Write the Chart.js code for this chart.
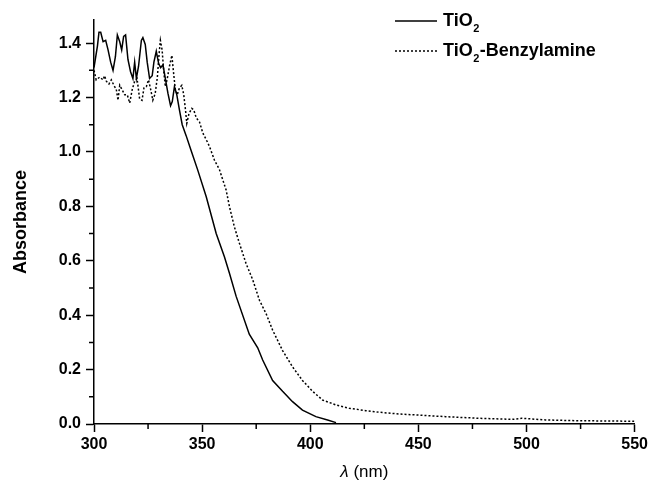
<!DOCTYPE html>
<html>
<head>
<meta charset="utf-8">
<script src="https://cdn.jsdelivr.net/npm/chart.js@4.4.0/dist/chart.umd.min.js"></script>
<style>
    html, body { margin: 0; padding: 0; background: #fff; }
    #wrap { width: 651px; height: 485px; }
</style>
</head>
<body>
<div id="wrap"><canvas id="grafico"></canvas></div>
<script>
// Dados (comprimento de onda em nm, absorbância)
const lambdaTiO2 = [300.0, 301.6, 302.3, 303.1, 304.2, 305.4, 306.5, 307.7, 308.8, 309.9,
    310.8, 311.9, 312.8, 313.7, 314.6, 315.7, 316.9, 318.0, 318.8, 319.6,
    320.6, 321.9, 322.6, 323.7, 324.6, 325.7, 326.9, 327.7, 328.8, 329.9,
    330.8, 331.9, 333.1, 334.2, 335.4, 336.2, 337.2, 338.3, 339.5, 340.8,
    342.6, 344.9, 347.9, 351.9, 356.5, 360.3, 362.6, 365.7, 371.8, 375.7,
    378.0, 382.6, 387.2, 391.8, 396.4, 402.6, 408.0, 411.9];
const absTiO2 = [1.31, 1.39, 1.44, 1.44, 1.405, 1.41, 1.375, 1.33, 1.30, 1.35,
    1.43, 1.405, 1.375, 1.425, 1.43, 1.34, 1.295, 1.27, 1.33, 1.27,
    1.315, 1.41, 1.42, 1.395, 1.33, 1.27, 1.28, 1.33, 1.37, 1.325,
    1.31, 1.32, 1.265, 1.215, 1.17, 1.185, 1.24, 1.21, 1.155, 1.10,
    1.06, 1.005, 0.935, 0.835, 0.70, 0.615, 0.555, 0.47, 0.33, 0.28,
    0.235, 0.16, 0.12, 0.082, 0.051, 0.027, 0.015, 0.005];

const lambdaBenzil = [300.0, 301.0, 302.6, 304.2, 304.9, 305.7, 306.9, 308.0, 309.2, 310.3,
    311.1, 311.9, 312.9, 314.2, 315.4, 316.5, 317.7, 318.8, 319.9, 321.1,
    322.2, 323.1, 324.2, 325.2, 326.2, 327.2, 328.3, 329.3, 330.1, 330.7,
    331.5, 332.2, 333.0, 333.9, 334.9, 336.0, 336.8, 337.6, 338.5, 339.5,
    340.6, 341.5, 342.3, 342.9, 343.9, 345.2, 346.1, 347.3, 348.8, 350.3,
    351.9, 353.4, 355.7, 358.0, 361.1, 362.6, 364.9, 367.2, 370.3, 373.4,
    376.5, 379.6, 382.6, 387.2, 391.8, 396.4, 401.1, 405.7, 411.9, 418.0,
    425.7, 433.4, 441.0, 447.2, 462.6, 478.0, 493.4, 497.8, 508.8, 524.1,
    539.5, 550.0];
const absBenzil = [1.30, 1.265, 1.275, 1.265, 1.28, 1.26, 1.25, 1.265, 1.245, 1.23,
    1.19, 1.245, 1.23, 1.21, 1.21, 1.18, 1.23, 1.26, 1.27, 1.195,
    1.19, 1.235, 1.24, 1.265, 1.23, 1.19, 1.215, 1.275, 1.36, 1.41,
    1.375, 1.30, 1.24, 1.27, 1.315, 1.355, 1.29, 1.23, 1.21, 1.235,
    1.245, 1.21, 1.155, 1.105, 1.14, 1.16, 1.155, 1.125, 1.11, 1.07,
    1.045, 1.02, 0.97, 0.935, 0.86, 0.80, 0.725, 0.665, 0.59, 0.53,
    0.455, 0.405, 0.345, 0.27, 0.21, 0.16, 0.12, 0.088, 0.07, 0.058,
    0.049, 0.042, 0.037, 0.034, 0.027, 0.021, 0.017, 0.021, 0.015, 0.012,
    0.011, 0.010];

// Marcas dos eixos
const ticksX = [300, 350, 400, 450, 500, 550];
const ticksXmenores = [325, 375, 425, 475, 525];
const ticksY = [0.0, 0.2, 0.4, 0.6, 0.8, 1.0, 1.2, 1.4];
const ticksYmenores = [0.1, 0.3, 0.5, 0.7, 0.9, 1.1, 1.3];

const familia = '"Liberation Sans", Arial, sans-serif';

function pontos(xs, ys) {
    return xs.map((x, i) => ({ x: x, y: ys[i] }));
}

// Marcas menores desenhadas com as escalas do próprio Chart.js
const pluginMarcasMenores = {
    id: 'marcasMenores',
    afterDraw(chart) {
        const ctx = chart.ctx;
        const sx = chart.scales.x;
        const sy = chart.scales.y;
        ctx.save();
        ctx.strokeStyle = '#000';
        ctx.lineWidth = 1.5;
        ctx.beginPath();
        ticksXmenores.forEach(v => {
            const px = sx.getPixelForValue(v);
            ctx.moveTo(px, sx.top);
            ctx.lineTo(px, sx.top + 5);
        });
        ticksYmenores.forEach(v => {
            const py = sy.getPixelForValue(v);
            ctx.moveTo(sy.right, py);
            ctx.lineTo(sy.right - 5, py);
        });
        ctx.stroke();
        ctx.restore();
    }
};

// Título do eixo x com lambda em itálico
const pluginTituloX = {
    id: 'tituloX',
    afterDraw(chart) {
        const ctx = chart.ctx;
        const area = chart.chartArea;
        const centro = (area.left + area.right) / 2;
        ctx.save();
        ctx.fillStyle = '#000';
        ctx.textBaseline = 'middle';
        ctx.font = 'italic 17px ' + familia;
        const wL = ctx.measureText('λ').width;
        ctx.font = '17px ' + familia;
        const wR = ctx.measureText(' (nm)').width;
        let x = centro - (wL + wR) / 2;
        ctx.font = 'italic 17px ' + familia;
        ctx.fillText('λ', x, 472);
        ctx.font = '17px ' + familia;
        ctx.fillText(' (nm)', x + wL, 472);
        ctx.restore();
    }
};

// Legenda com subscrito
const pluginLegenda = {
    id: 'legendaTiO2',
    afterDraw(chart) {
        const ctx = chart.ctx;
        const itens = [
            { nome: 'TiO', resto: '', tracejado: [], y: 21 },
            { nome: 'TiO', resto: '-Benzylamine', tracejado: [2, 2], y: 51 }
        ];
        ctx.save();
        itens.forEach(item => {
            ctx.strokeStyle = '#000';
            ctx.lineWidth = 1.5;
            ctx.setLineDash(item.tracejado);
            ctx.beginPath();
            ctx.moveTo(395, item.y);
            ctx.lineTo(437, item.y);
            ctx.stroke();
            ctx.setLineDash([]);

            ctx.fillStyle = '#000';
            ctx.textBaseline = 'middle';
            ctx.font = 'bold 18px ' + familia;
            let x = 443;
            ctx.fillText(item.nome, x, item.y);
            x += ctx.measureText(item.nome).width;
            ctx.font = 'bold 11px ' + familia;
            ctx.fillText('2', x + 0.5, item.y + 8);
            x += ctx.measureText('2').width + 1;
            if (item.resto) {
                ctx.font = 'bold 18px ' + familia;
                ctx.fillText(item.resto, x, item.y);
            }
        });
        ctx.restore();
    }
};

document.addEventListener('DOMContentLoaded', function() {
    const ctx = document.getElementById('grafico');
    new Chart(ctx, {
        type: 'line',
        data: {
            datasets: [
                {
                    label: 'TiO2',
                    data: pontos(lambdaTiO2, absTiO2),
                    borderColor: '#000',
                    borderWidth: 1.5,
                    pointRadius: 0,
                    tension: 0,
                    fill: false
                },
                {
                    label: 'TiO2-Benzylamine',
                    data: pontos(lambdaBenzil, absBenzil),
                    borderColor: '#000',
                    borderWidth: 1.5,
                    borderDash: [2, 2],
                    pointRadius: 0,
                    tension: 0,
                    fill: false
                }
            ]
        },
        options: {
            responsive: true,
            maintainAspectRatio: false,
            animation: false,
            layout: { padding: { left: 0, top: 20, right: 15, bottom: 0 } },
            plugins: {
                legend: { display: false },
                tooltip: { enabled: false }
            },
            scales: {
                x: {
                    type: 'linear',
                    min: 300,
                    max: 550,
                    afterBuildTicks: s => { s.ticks = ticksX.map(v => ({ value: v })); },
                    afterFit: s => { s.height = 61; },
                    grid: { drawOnChartArea: false, tickLength: 8, tickColor: '#000', tickWidth: 1.5 },
                    border: { color: '#000', width: 1.5 },
                    ticks: {
                        color: '#000',
                        font: { family: familia, size: 16, weight: 'bold' },
                        padding: 3,
                        maxRotation: 0
                    }
                },
                y: {
                    type: 'linear',
                    min: 0,
                    max: 1.485,
                    afterBuildTicks: s => { s.ticks = ticksY.map(v => ({ value: v })); },
                    afterFit: s => { s.width = 94; },
                    grid: { drawOnChartArea: false, tickLength: 8, tickColor: '#000', tickWidth: 1.5 },
                    border: { color: '#000', width: 1.5 },
                    ticks: {
                        color: '#000',
                        font: { family: familia, size: 16, weight: 'bold' },
                        padding: 5,
                        callback: v => v.toFixed(1)
                    },
                    title: {
                        display: true,
                        text: 'Absorbance',
                        color: '#000',
                        font: { family: familia, size: 18, weight: 'bold' },
                        padding: { top: 10, bottom: 0 }
                    }
                }
            }
        },
        plugins: [pluginMarcasMenores, pluginTituloX, pluginLegenda]
    });
});
</script>
</body>
</html>
